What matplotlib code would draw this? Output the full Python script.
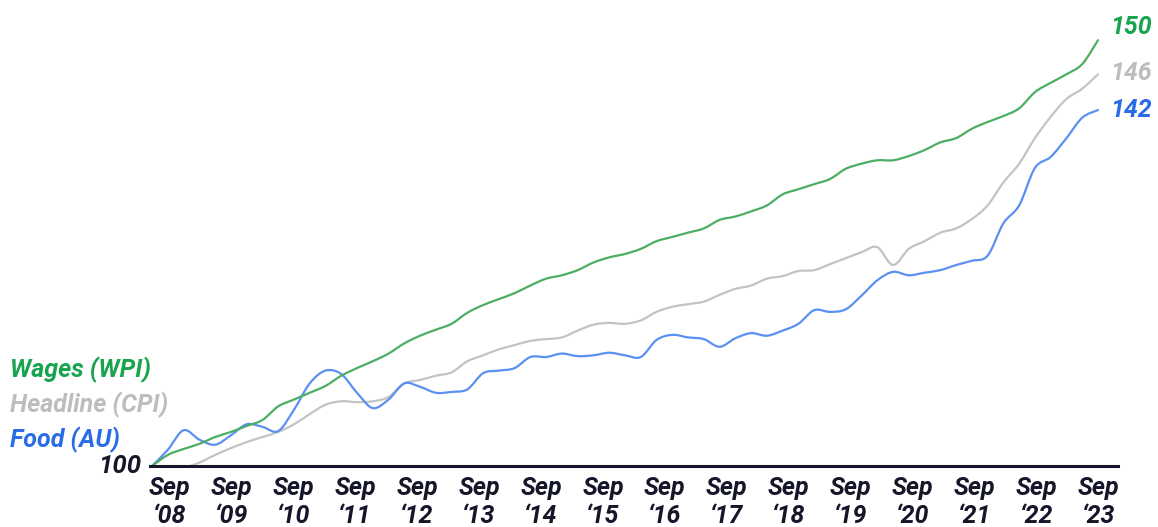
import numpy as np
import matplotlib
matplotlib.use("Agg")
import matplotlib.pyplot as plt
from matplotlib.path import Path
from matplotlib.patches import PathPatch

plt.rcParams['font.family'] = ['Roboto', 'DejaVu Sans']

# Quarterly index values, Sep 2008 = 100 (Sep '08 ... Sep '23)
wages_wpi = [100.0, 101.3, 102.0, 102.6, 103.4, 104.0, 104.7, 105.4, 107.0, 107.8,
             108.6, 109.4, 110.6, 111.5, 112.3, 113.2, 114.4, 115.3, 116.0, 116.7,
             118.0, 118.9, 119.6, 120.3, 121.2, 122.0, 122.4, 123.0, 123.9, 124.5,
             124.9, 125.5, 126.4, 126.9, 127.4, 127.9, 128.9, 129.3, 129.9, 130.6,
             131.9, 132.5, 133.1, 133.7, 134.9, 135.5, 135.9, 135.9, 136.4, 137.1,
             138.0, 138.5, 139.6, 140.4, 141.1, 142.0, 143.9, 145.0, 146.0, 147.2,
             150.0]
headline_cpi = [100.0, 99.7, 99.8, 100.4, 101.3, 102.1, 102.8, 103.4, 104.0, 104.9,
                106.1, 107.2, 107.6, 107.5, 107.6, 108.1, 109.7, 110.1, 110.6, 111.0,
                112.3, 113.0, 113.7, 114.2, 114.7, 114.9, 115.1, 115.9, 116.6, 116.8,
                116.7, 117.1, 118.1, 118.7, 119.0, 119.3, 120.1, 120.8, 121.2, 122.0,
                122.3, 122.9, 123.0, 123.7, 124.4, 125.1, 125.7, 123.6, 125.5, 126.4,
                127.4, 127.9, 129.0, 130.6, 133.3, 135.5, 138.5, 141.0, 143.1, 144.3,
                146.0]
food_au = [100.0, 101.9, 104.2, 103.1, 102.5, 103.6, 104.9, 104.6, 104.1, 106.6,
           109.7, 111.2, 110.8, 108.6, 106.8, 107.8, 109.7, 109.3, 108.6, 108.7,
           109.0, 110.9, 111.2, 111.5, 112.8, 112.8, 113.2, 112.9, 113.0, 113.3,
           113.0, 112.8, 114.8, 115.4, 115.1, 114.9, 114.0, 115.0, 115.6, 115.3,
           115.9, 116.7, 118.3, 118.1, 118.4, 120.0, 121.8, 122.8, 122.4, 122.7,
           123.0, 123.6, 124.1, 124.7, 128.5, 130.6, 135.0, 136.3, 138.5, 140.9,
           141.8]

tick_labels = ["Sep\n\u2018%02d" % y for y in range(8, 24)]
series_names = ["Wages (WPI)", "Headline (CPI)", "Food (AU)"]

line_colors = ["#4cae62", "#c3c3c3", "#5b90f2"]
text_colors = ["#18a44f", "#bdbdbd", "#2a6be6"]
dark = "#16162b"


def smooth_path(x, y):
    """Catmull-Rom curve through the data points, drawn as cubic Bezier segments."""
    x = np.asarray(x, float)
    y = np.asarray(y, float)
    n = len(x)
    verts = [(x[0], y[0])]
    codes = [Path.MOVETO]
    for i in range(n - 1):
        i0 = max(i - 1, 0)
        i3 = min(i + 2, n - 1)
        c1 = (x[i] + (x[i + 1] - x[i0]) / 6, y[i] + (y[i + 1] - y[i0]) / 6)
        c2 = (x[i + 1] - (x[i3] - x[i]) / 6, y[i + 1] - (y[i3] - y[i]) / 6)
        verts += [c1, c2, (x[i + 1], y[i + 1])]
        codes += [Path.CURVE4] * 3
    return Path(verts, codes)


fig = plt.figure(figsize=(11.58, 5.27), dpi=100)
ax = fig.add_axes([150 / 1158, 1 - 466 / 527, (1118 - 150) / 1158, (466 - 30) / 527])

q = np.arange(len(wages_wpi))
for vals, c, z in zip([headline_cpi, food_au, wages_wpi],
                      [line_colors[1], line_colors[2], line_colors[0]], [2, 3, 4]):
    patch = PathPatch(smooth_path(q, vals), facecolor='none', edgecolor=c, lw=1.6,
                      zorder=z, capstyle='round', joinstyle='round')
    ax.add_patch(patch)

ax.set_xlim(-0.13, 61.27)
ax.set_ylim(100, 151.2)

for s in ['top', 'right', 'left']:
    ax.spines[s].set_visible(False)
ax.spines['bottom'].set_color(dark)
ax.spines['bottom'].set_linewidth(2.2)
ax.spines['bottom'].set_zorder(6)

ax.set_yticks([])
ax.set_xticks(np.linspace(1.08, 60.05, 16))
ax.set_xticklabels(tick_labels, fontsize=18, fontweight='bold', fontstyle='italic',
                   color=dark, linespacing=1.22)
ax.tick_params(axis='x', length=0, pad=7)

ax.text(-0.7, 100, "100", ha='right', va='center', fontsize=18.5, fontweight='bold',
        fontstyle='italic', color=dark, clip_on=False)

# end labels
ends = [wages_wpi[-1], headline_cpi[-1], food_au[-1]]
offsets = [1.5, 0.2, 0.0]
for v, off, c in zip(ends, offsets, text_colors):
    ax.text(60.75, v + off, f"{round(v)}", ha='left', va='center', fontsize=18,
            fontweight='bold', fontstyle='italic', color=c, clip_on=False)

# left legend labels
for name, c, yp in zip(series_names, text_colors, [370, 405, 440]):
    fig.text(10 / 1158, 1 - yp / 527, name, ha='left', va='center', fontsize=18,
             fontweight='bold', fontstyle='italic', color=c)

fig.savefig("out.png", dpi=100)
